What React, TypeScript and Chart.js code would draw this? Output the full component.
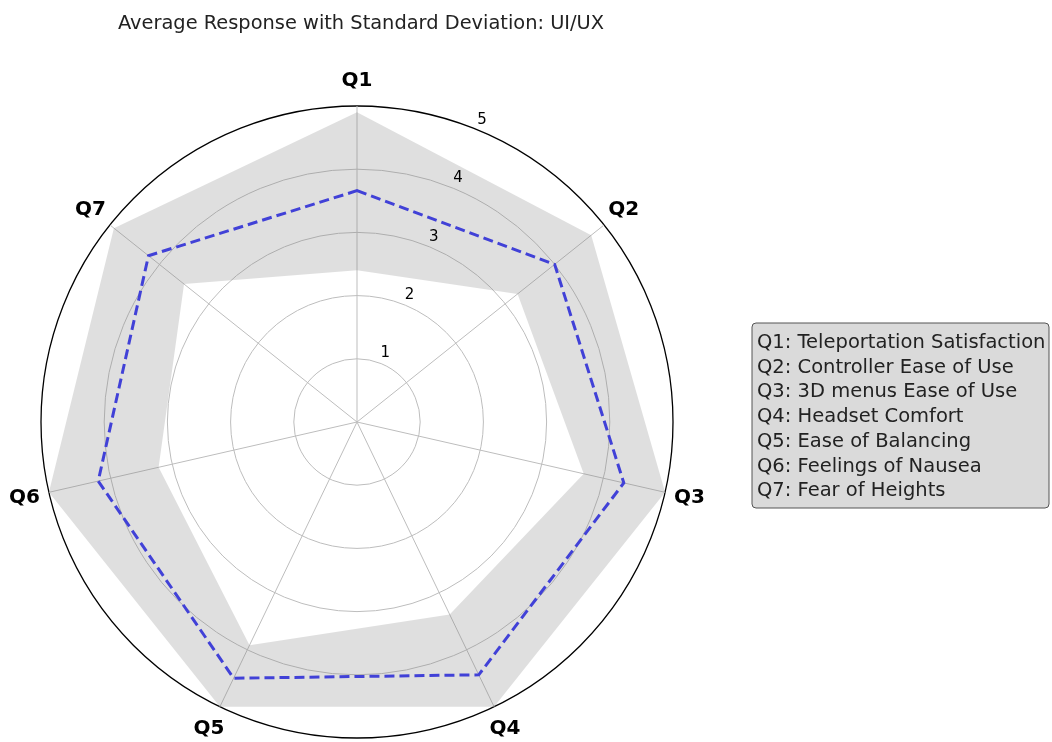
import React, { useEffect, useRef } from "react";
import { Chart, registerables } from "chart.js";

Chart.register(...registerables);

// Survey questions (axes) and their descriptions for the key box
const questions = ["Q1", "Q2", "Q3", "Q4", "Q5", "Q6", "Q7"];
const descriptions = [
  "Teleportation Satisfaction",
  "Controller Ease of Use",
  "3D menus Ease of Use",
  "Headset Comfort",
  "Ease of Balancing",
  "Feelings of Nausea",
  "Fear of Heights",
];

// Average response per question
const meanScores = [3.66, 4.0, 4.33, 4.44, 4.5, 4.2, 4.22];
// Mean + std (capped at the top of the scale) and mean - std
const upperBand = [4.9, 4.74, 5.0, 5.0, 5.0, 5.0, 4.92];
const lowerBand = [2.4, 3.25, 3.68, 3.38, 3.92, 3.22, 3.5];

const radialTicks = [1, 2, 3, 4, 5];
const chartTitle = "Average Response with Standard Deviation: UI/UX";

const FONT = "'DejaVu Sans', Verdana, sans-serif";

const decorations = {
  id: "decorations",
  afterDatasetsDraw(chart: any) {
    const ctx: CanvasRenderingContext2D = chart.ctx;
    const r = chart.scales.r;
    ctx.save();

    // radial tick labels, placed along a 22.5° ray
    ctx.font = `15px ${FONT}`;
    ctx.fillStyle = "#000";
    ctx.textAlign = "center";
    ctx.textBaseline = "middle";
    const tickAngle = (22.5 * Math.PI) / 180;
    radialTicks.forEach((v) => {
      const d = r.getDistanceFromCenterForValue(v) + 11;
      ctx.fillText(
        String(v),
        r.xCenter + d * Math.sin(tickAngle),
        r.yCenter - d * Math.cos(tickAngle)
      );
    });

    // axis labels around the outer circle
    ctx.font = `bold 20px ${FONT}`;
    ctx.fillStyle = "#000";
    questions.forEach((q, i) => {
      const p = r.getPointPosition(i, r.drawingArea + 25);
      ctx.fillText(q, p.x, p.y);
    });

    // title
    ctx.font = `19.4px ${FONT}`;
    ctx.fillStyle = "#222";
    ctx.textBaseline = "alphabetic";
    ctx.fillText(chartTitle, r.xCenter + 4, 29);

    // key box with question descriptions
    const bx = 752, by = 323, bw = 297, bh = 185, rad = 4;
    ctx.beginPath();
    ctx.moveTo(bx + rad, by);
    ctx.lineTo(bx + bw - rad, by);
    ctx.quadraticCurveTo(bx + bw, by, bx + bw, by + rad);
    ctx.lineTo(bx + bw, by + bh - rad);
    ctx.quadraticCurveTo(bx + bw, by + bh, bx + bw - rad, by + bh);
    ctx.lineTo(bx + rad, by + bh);
    ctx.quadraticCurveTo(bx, by + bh, bx, by + bh - rad);
    ctx.lineTo(bx, by + rad);
    ctx.quadraticCurveTo(bx, by, bx + rad, by);
    ctx.closePath();
    ctx.fillStyle = "#dadada";
    ctx.fill();
    ctx.strokeStyle = "#555";
    ctx.lineWidth = 1;
    ctx.stroke();

    ctx.font = `19.5px ${FONT}`;
    ctx.fillStyle = "#222";
    ctx.textAlign = "left";
    questions.forEach((q, i) => {
      ctx.fillText(`${q}: ${descriptions[i]}`, 757, 348 + i * 24.7);
    });

    ctx.restore();
  },
};

export default function App() {
  const canvasRef = useRef<HTMLCanvasElement | null>(null);

  useEffect(() => {
    if (!canvasRef.current) return;
    const chart = new Chart(canvasRef.current, {
      type: "radar",
      data: {
        labels: questions,
        datasets: [
          {
            label: "Mean + SD",
            data: upperBand,
            borderColor: "rgba(0,0,0,0)",
            borderWidth: 0,
            backgroundColor: "rgba(128,128,128,0.25)",
            fill: "+1",
            pointRadius: 0,
          },
          {
            label: "Mean - SD",
            data: lowerBand,
            borderColor: "rgba(0,0,0,0)",
            borderWidth: 0,
            backgroundColor: "rgba(0,0,0,0)",
            fill: false,
            pointRadius: 0,
          },
          {
            label: "Average",
            data: meanScores,
            borderColor: "rgb(45,45,245)",
            borderWidth: 3,
            borderDash: [10, 5],
            backgroundColor: "rgba(0,0,0,0)",
            fill: false,
            pointRadius: 0,
          },
        ],
      },
      options: {
        responsive: false,
        animation: false,
        devicePixelRatio: 1,
        layout: { padding: { left: 41, top: 106, right: 379, bottom: 4 } },
        elements: { line: { tension: 0 } },
        plugins: {
          legend: { display: false },
          tooltip: { enabled: false },
        },
        scales: {
          r: {
            min: 0,
            max: 5,
            startAngle: 0,
            ticks: { display: false, stepSize: 1 },
            pointLabels: { display: false },
            grid: {
              circular: true,
              color: (c: any) => (c.tick && c.tick.value === 5 ? "#000" : "#bdbdbd"),
              lineWidth: (c: any) => (c.tick && c.tick.value === 5 ? 1.3 : 1),
            },
            angleLines: { color: "#bdbdbd", lineWidth: 1 },
          },
        },
      },
      plugins: [decorations],
    });
    return () => chart.destroy();
  }, []);

  return (
    <div style={{ position: "absolute", left: 0, top: 0, width: 1052, height: 742, background: "#fff" }}>
      <canvas ref={canvasRef} width={1052} height={742} style={{ display: "block" }} />
    </div>
  );
}
